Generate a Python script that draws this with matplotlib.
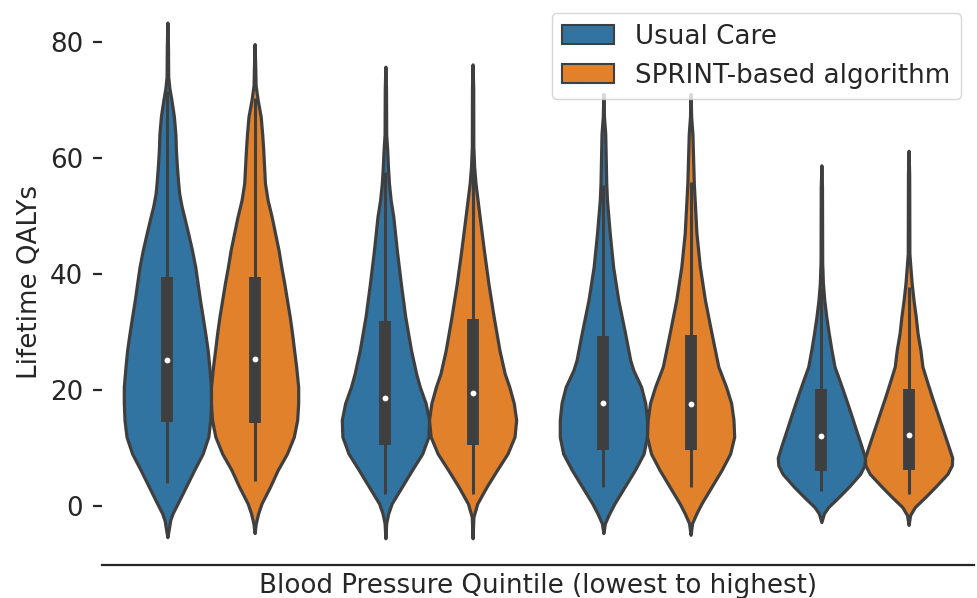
import numpy as np
import matplotlib
matplotlib.use("Agg")
import matplotlib.pyplot as plt
from matplotlib.patches import Patch

# ---- data ----
groups = ["Q1", "Q2", "Q3", "Q4"]
series = ["Usual Care", "SPRINT-based algorithm"]
colors = ["#3274a1", "#e1812c"]
edge = "#3f3f3f"

# violin profiles: value levels (y) and relative half-width (w)
uc1_y = [83.3, 79.0, 74.0, 72.0, 70.0, 67.1, 64.0, 61.3, 58.5, 55.6, 53.8, 51.6, 49.8, 46.9, 44.1, 41.2, 38.3, 35.5, 32.6, 29.7, 26.8, 24.0, 20.5, 17.7, 14.8, 11.9, 9.0, 6.2, 3.3, 0.4, -1.3, -2.5, -4.2, -5.4]
uc1_w = [0, 0.6, 0.8, 2.0, 4.0, 6.5, 8.0, 8.5, 9.5, 10.8, 11.8, 14.2, 16.8, 20.8, 24.5, 27.8, 30.2, 32.5, 35.2, 37.8, 40.2, 41.8, 43.5, 43.5, 42.8, 40.8, 35.2, 26.8, 18.5, 10.2, 5.2, 2.8, 1.2, 0]
sp1_y = [79.6, 76.0, 72.5, 70.0, 67.1, 64.0, 61.3, 55.6, 52.7, 49.8, 46.9, 44.1, 41.2, 38.3, 35.5, 32.6, 29.7, 26.8, 24.0, 20.5, 17.7, 14.8, 11.9, 9.0, 6.2, 3.3, 0.4, -1.3, -3.0, -4.7]
sp1_w = [0, 0.6, 1.0, 3.0, 6.0, 7.5, 8.5, 10.2, 12.8, 16.8, 20.2, 23.5, 26.2, 29.2, 31.8, 34.5, 36.8, 38.8, 40.8, 42.8, 42.8, 41.8, 38.5, 31.8, 22.8, 15.2, 6.8, 3.5, 1.2, 0]

uc2_y = [75.7, 72.0, 64.0, 61.3, 58.5, 55.6, 52.7, 49.8, 44.1, 38.3, 32.6, 26.8, 22.8, 20.5, 17.7, 14.8, 11.9, 9.0, 6.2, 3.3, 0.4, -1.3, -3.0, -5.6]
uc2_w = [0, 0.6, 0.8, 1.8, 2.5, 3.5, 5.2, 7.8, 11.2, 15.2, 19.5, 25.2, 30.2, 33.8, 39.5, 42.8, 42.2, 36.2, 26.2, 16.2, 6.2, 2.8, 0.8, 0]
sp2_y = [76.1, 72.0, 62.0, 58.5, 55.6, 49.8, 44.1, 38.3, 32.6, 26.8, 22.8, 20.5, 17.7, 14.8, 11.9, 9.0, 6.2, 3.3, 0.4, -1.9, -5.6]
sp2_w = [0, 0.6, 0.7, 1.5, 2.8, 6.8, 10.8, 15.2, 20.2, 25.8, 30.8, 35.2, 39.5, 41.8, 40.2, 33.5, 23.5, 13.5, 4.5, 0.8, 0]

uc3_y = [71.0, 67.0, 64.2, 55.6, 52.7, 47.0, 41.2, 35.5, 29.7, 25.1, 23.4, 20.5, 17.7, 14.8, 11.9, 9.0, 6.2, 3.3, 0.4, -1.3, -3.0, -4.7]
uc3_w = [0, 0.6, 1.8, 2.8, 3.5, 6.2, 9.5, 14.5, 21.2, 26.2, 29.2, 36.8, 40.8, 42.5, 42.5, 39.2, 30.8, 20.8, 10.8, 5.8, 1.5, 0]
sp3_y = [71.0, 67.0, 64.2, 55.6, 47.0, 41.2, 35.5, 29.7, 24.0, 20.5, 17.7, 14.8, 11.9, 9.0, 6.2, 3.3, 0.4, -1.3, -3.0, -5.0]
sp3_w = [0, 0.6, 1.8, 3.2, 5.8, 9.2, 14.2, 20.8, 27.5, 35.2, 40.2, 42.5, 43.2, 39.2, 30.8, 20.8, 10.8, 5.8, 1.5, 0]

uc4_y = [58.7, 55.0, 42.0, 38.4, 35.5, 32.6, 29.7, 26.9, 24.0, 21.7, 18.9, 16.0, 13.1, 10.2, 8.3, 7.0, 5.5, 3.3, 1.5, -0.2, -1.3, -2.8]
uc4_w = [0, 0.6, 0.8, 1.5, 2.8, 4.8, 7.2, 9.8, 12.8, 17.5, 23.0, 28.5, 33.8, 39.2, 42.5, 42.0, 37.8, 26.8, 16.8, 6.8, 2.5, 0]
sp4_y = [61.2, 57.0, 43.5, 41.8, 38.4, 35.5, 32.6, 29.7, 26.9, 24.0, 21.7, 18.9, 16.0, 13.1, 10.2, 8.3, 7.0, 5.5, 3.3, 1.5, -0.2, -1.6, -3.3]
sp4_w = [0, 0.6, 0.8, 1.5, 3.0, 4.8, 7.0, 8.8, 11.5, 13.5, 17.5, 22.5, 28.0, 33.5, 39.0, 42.5, 42.2, 37.8, 26.2, 16.2, 6.2, 1.5, 0]

# inner box statistics
uc_q1 = [14.5, 10.5, 9.7, 6.0]
uc_med = [25.2, 18.6, 17.8, 12.0]
uc_q3 = [39.4, 31.8, 29.3, 20.1]
uc_lo = [3.9, 2.0, 3.2, 2.6]
uc_hi = [71.5, 57.6, 55.3, 37.5]
sp_q1 = [14.2, 10.5, 9.6, 6.2]
sp_med = [25.3, 19.4, 17.5, 12.2]
sp_q3 = [39.5, 32.2, 29.5, 20.1]
sp_lo = [4.3, 2.0, 3.2, 2.0]
sp_hi = [70.3, 59.3, 55.9, 37.8]

yticks = [0, 20, 40, 60, 80]

profiles = [
    [(uc1_y, uc1_w), (uc2_y, uc2_w), (uc3_y, uc3_w), (uc4_y, uc4_w)],
    [(sp1_y, sp1_w), (sp2_y, sp2_w), (sp3_y, sp3_w), (sp4_y, sp4_w)],
]
boxes = [
    (uc_q1, uc_med, uc_q3, uc_lo, uc_hi),
    (sp_q1, sp_med, sp_q3, sp_lo, sp_hi),
]

fig = plt.figure(figsize=(9.77, 5.98), dpi=100)
ax = fig.add_axes([0.1044, 0.0552, 0.8925, 0.9448])

ink = "#262626"
fs = 18.8
offsets = [-0.2, 0.2]
for gi in range(len(groups)):
    for si in range(len(series)):
        pos = gi + offsets[si]
        y, w = profiles[si][gi]
        q1, med, q3, lo, hi = (b[gi] for b in boxes[si])
        stats = dict(coords=np.array(y, float), vals=np.array(w, float),
                     mean=med, median=med, min=min(y), max=max(y))
        parts = ax.violin([stats], positions=[pos], widths=0.4,
                          showmeans=False, showextrema=False, showmedians=False)
        for b in parts["bodies"]:
            b.set_facecolor(colors[si])
            b.set_edgecolor(edge)
            b.set_linewidth(2.3)
            b.set_alpha(1)
            b.set_zorder(2)
            b.set_joinstyle("round")
        ax.plot([pos, pos], [lo, hi], color=edge, lw=2.2,
                solid_capstyle="butt", zorder=3)
        ax.plot([pos, pos], [q1, q3], color=edge, lw=8.5,
                solid_capstyle="butt", zorder=3)
        ax.plot([pos], [med], "o", color="white", ms=4.2, mew=0, zorder=4)

ax.set_xlim(-0.5, len(groups) - 0.5)
ax.set_ylim(-10.2, 87.2)
ax.set_xticks([])
ax.set_yticks(yticks)
ax.set_yticklabels([str(t) for t in yticks])
for s in ["left", "top", "right"]:
    ax.spines[s].set_visible(False)
ax.spines["bottom"].set_linewidth(1.6)
ax.spines["bottom"].set_color(ink)
ax.tick_params(axis="y", length=6.5, width=1.6, color=ink, pad=7,
               labelsize=fs, labelcolor=ink)
ax.set_ylabel("Lifetime QALYs", fontsize=fs, color=ink, labelpad=5)
ax.set_xlabel("Blood Pressure Quintile (lowest to highest)", fontsize=fs,
              color=ink, labelpad=6)

handles = [Patch(facecolor=colors[i], edgecolor=edge, lw=1.5, label=series[i])
           for i in range(len(series))]
leg = ax.legend(handles=handles, loc="upper right", fontsize=fs, frameon=True,
                fancybox=True, framealpha=0.8, edgecolor="0.8")
for t in leg.get_texts():
    t.set_color(ink)

fig.savefig("out.png", dpi=100)
